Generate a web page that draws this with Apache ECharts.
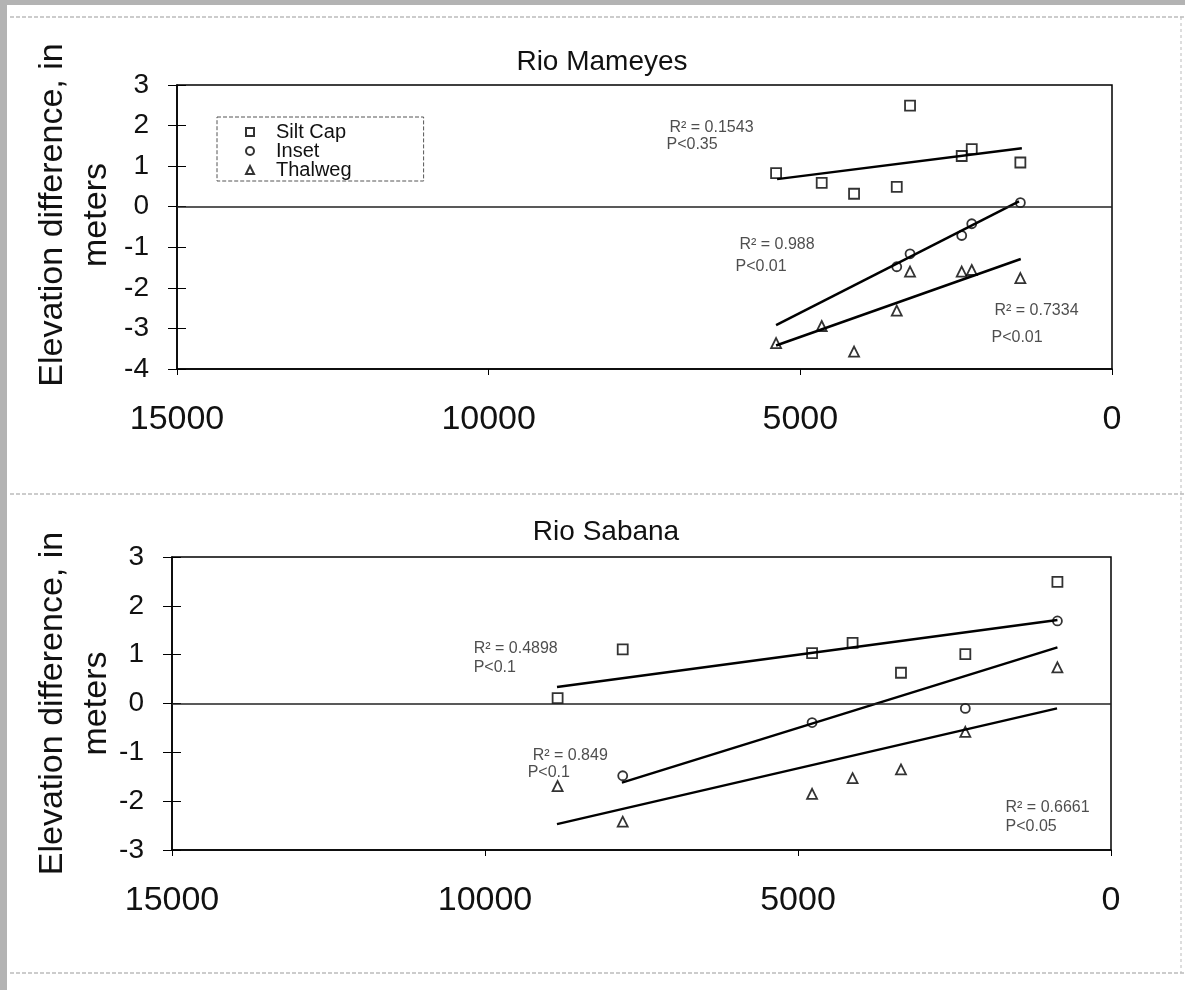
<!DOCTYPE html>
<html>
<head>
<meta charset="utf-8">
<script src="https://cdn.jsdelivr.net/npm/echarts@6/dist/echarts.min.js"></script>
<style>
* { margin: 0; padding: 0; }
body { background: #fff; }
#main { width: 1185px; height: 990px; }
</style>
</head>
<body>
<div id="main"></div>
<script>
// tick labels
var xTicks = [0, 5000, 10000, 15000];
var yTicksTop = [-4, -3, -2, -1, 0, 1, 2, 3];
var yTicksBottom = [-3, -2, -1, 0, 1, 2, 3];
var seriesNames = ["Silt Cap", "Inset", "Thalweg"];

// Rio Mameyes - distance upstream (m) and elevation difference (m)
var mamDist = [5389, 4657, 4138, 3453, 3240, 2411, 2250, 1470];
var mamSilt = [0.83, 0.59, 0.32, 0.49, 2.49, 1.25, 1.42, 1.09];
var mamInsetDist = [3453, 3240, 2411, 2250, 1470];
var mamInset = [-1.48, -1.16, -0.71, -0.42, 0.10];
var mamThal = [-3.36, -2.94, -3.57, -2.56, -1.60, -1.60, -1.56, -1.76];
// fitted trend lines (end points)
var mamSiltFit = [[5373, 0.68], [1446, 1.44]];
var mamInsetFit = [[5389, -2.92], [1492, 0.13]];
var mamThalFit = [[5389, -3.42], [1464, -1.29]];
var mamNotes = [
  [7091, 1.94, "R\u00b2 = 0.1543"], [7139, 1.52, "P<0.35"],
  [5968, -0.94, "R\u00b2 = 0.988"], [6032, -1.48, "P<0.01"],
  [1877, -2.57, "R\u00b2 = 0.7334"], [1925, -3.23, "P<0.01"]
];

// Rio Sabana
var sabDist = [8840, 7800, 4775, 4128, 3355, 2327, 856];
var sabSilt = [0.11, 1.11, 1.03, 1.24, 0.63, 1.01, 2.49];
var sabInsetDist = [7800, 4775, 2327, 856];
var sabInset = [-1.48, -0.39, -0.10, 1.69];
var sabThal = [-1.69, -2.42, -1.85, -1.53, -1.35, -0.58, 0.74];
var sabSiltFit = [[8850, 0.34], [856, 1.71]];
var sabInsetFit = [[7813, -1.62], [856, 1.15]];
var sabThalFit = [[8850, -2.47], [862, -0.10]];
var sabNotes = [
  [10173, 1.11, "R\u00b2 = 0.4898"], [10173, 0.73, "P<0.1"],
  [9231, -1.07, "R\u00b2 = 0.849"], [9311, -1.42, "P<0.1"],
  [1677, -2.14, "R\u00b2 = 0.6661"], [1677, -2.53, "P<0.05"]
];

var FONT = "Liberation Sans, Arial, Helvetica, sans-serif";
var INK = "#111";

function pairs(xs, ys) {
  return xs.map(function (x, i) { return [x, ys[i]]; });
}

function xAxisFor(g) {
  return {
    gridIndex: g, type: "value", inverse: true,
    min: xTicks[0], max: xTicks[xTicks.length - 1], interval: xTicks[1] - xTicks[0],
    axisLine: { onZero: false, lineStyle: { color: "#000", width: 1.5 } },
    axisTick: { length: 6, lineStyle: { color: "#000" } },
    axisLabel: { fontSize: 34, margin: 34, color: INK, fontFamily: FONT,
      formatter: function (v) { return String(v); } },
    splitLine: { show: false }
  };
}

function yAxisFor(g, ticks, gap, shift) {
  return {
    gridIndex: g, type: "value", position: "left",
    min: ticks[0], max: ticks[ticks.length - 1], interval: 1,
    name: "Elevation difference, in\nmeters",
    nameLocation: "middle", nameRotate: 90, nameGap: gap, nameMoveOverlap: false,
    nameTextStyle: { fontSize: 34, lineHeight: 44, color: INK, fontFamily: FONT, padding: [0, 0, 0, shift] },
    axisLine: { onZero: false, lineStyle: { color: "#000", width: 1.5 } },
    axisTick: { length: 9, lineStyle: { color: "#000" } },
    axisLabel: { fontSize: 28, margin: 28, color: INK, fontFamily: FONT },
    splitLine: { show: false }
  };
}

// extra left axis that only draws the half of each tick inside the plot
function innerTicks(g, ticks) {
  return {
    gridIndex: g, type: "value", position: "left",
    min: ticks[0], max: ticks[ticks.length - 1], interval: 1,
    axisLine: { show: false, onZero: false },
    axisTick: { inside: true, length: 9, lineStyle: { color: "#000" } },
    axisLabel: { show: false },
    splitLine: { show: false }
  };
}

var hollow = { color: "rgba(255,255,255,0)", borderColor: "#000", borderWidth: 1.8 };

function pointSeries(name, sym, size, data, xi, yi) {
  return {
    name: name, type: "scatter", xAxisIndex: xi, yAxisIndex: yi,
    symbol: sym, symbolSize: size, itemStyle: hollow, data: data, z: 4
  };
}

function fitSeries(data, xi, yi) {
  return {
    type: "line", xAxisIndex: xi, yAxisIndex: yi, data: data,
    showSymbol: false, silent: true,
    lineStyle: { color: "#000", width: 2.5 }, z: 3
  };
}

function noteSeries(data, xi, yi) {
  return {
    type: "scatter", xAxisIndex: xi, yAxisIndex: yi, data: data,
    symbolSize: 1, itemStyle: { color: "rgba(0,0,0,0)" }, silent: true,
    label: {
      show: true, position: [0, 0], align: "left", verticalAlign: "middle",
      fontSize: 16, color: "#222", fontFamily: FONT,
      formatter: function (p) { return p.data[2]; }
    }
  };
}

function zeroLine(xi, yi) {
  return {
    type: "line", xAxisIndex: xi, yAxisIndex: yi, data: [], silent: true,
    markLine: {
      symbol: "none", silent: true, label: { show: false },
      lineStyle: { color: "#222", width: 1.5, type: "solid" },
      data: [{ yAxis: 0 }]
    }
  };
}

var chart = echarts.init(document.getElementById("main"));
chart.setOption({
  backgroundColor: "#fff",
  animation: false,
  title: [
    { text: "Rio Mameyes", left: 602, top: 48, textAlign: "center", padding: 0,
      textStyle: { fontSize: 28, fontWeight: "normal", color: INK, fontFamily: FONT, lineHeight: 28 } },
    { text: "Rio Sabana", left: 606, top: 518, textAlign: "center", padding: 0,
      textStyle: { fontSize: 28, fontWeight: "normal", color: INK, fontFamily: FONT, lineHeight: 28 } }
  ],
  legend: {
    data: seriesNames, orient: "vertical", left: 217, top: 117,
    padding: [5, 72, 1, 28], itemWidth: 8, itemHeight: 8, itemGap: -1,
    selectedMode: false, borderColor: "#555", borderWidth: 1, borderType: "dashed",
    textStyle: { fontSize: 20, lineHeight: 20, color: INK, fontFamily: FONT, padding: [0, 0, 0, 17] }
  },
  grid: [
    { left: 177, right: 73, top: 85, height: 284, show: true, borderColor: "#000", borderWidth: 1.5 },
    { left: 172, right: 74, top: 557, height: 293, show: true, borderColor: "#000", borderWidth: 1.5 }
  ],
  xAxis: [xAxisFor(0), xAxisFor(1)],
  yAxis: [
    yAxisFor(0, yTicksTop, 58, 24), innerTicks(0, yTicksTop),
    yAxisFor(1, yTicksBottom, 53, 0), innerTicks(1, yTicksBottom)
  ],
  series: [
    zeroLine(0, 0),
    pointSeries(seriesNames[0], "rect", 10, pairs(mamDist, mamSilt), 0, 0),
    pointSeries(seriesNames[1], "circle", 9, pairs(mamInsetDist, mamInset), 0, 0),
    pointSeries(seriesNames[2], "triangle", 10, pairs(mamDist, mamThal), 0, 0),
    fitSeries(mamSiltFit, 0, 0),
    fitSeries(mamInsetFit, 0, 0),
    fitSeries(mamThalFit, 0, 0),
    noteSeries(mamNotes, 0, 0),

    zeroLine(1, 2),
    pointSeries(seriesNames[0], "rect", 10, pairs(sabDist, sabSilt), 1, 2),
    pointSeries(seriesNames[1], "circle", 9, pairs(sabInsetDist, sabInset), 1, 2),
    pointSeries(seriesNames[2], "triangle", 10, pairs(sabDist, sabThal), 1, 2),
    fitSeries(sabSiltFit, 1, 2),
    fitSeries(sabInsetFit, 1, 2),
    fitSeries(sabThalFit, 1, 2),
    noteSeries(sabNotes, 1, 2)
  ],
  graphic: [
    // scanned page edges and faint table rules
    { type: "rect", shape: { x: 0, y: 0, width: 1185, height: 5 }, style: { fill: "#b3b3b3" }, silent: true },
    { type: "rect", shape: { x: 0, y: 0, width: 7, height: 990 }, style: { fill: "#b3b3b3" }, silent: true },
    { type: "line", shape: { x1: 10, y1: 17, x2: 1185, y2: 17 }, style: { stroke: "#999", lineWidth: 1, lineDash: [4, 2] }, silent: true },
    { type: "line", shape: { x1: 10, y1: 494, x2: 1185, y2: 494 }, style: { stroke: "#999", lineWidth: 1, lineDash: [4, 2] }, silent: true },
    { type: "line", shape: { x1: 10, y1: 973, x2: 1185, y2: 973 }, style: { stroke: "#999", lineWidth: 1, lineDash: [4, 2] }, silent: true },
    { type: "line", shape: { x1: 1181, y1: 17, x2: 1181, y2: 973 }, style: { stroke: "#bbb", lineWidth: 1, lineDash: [3, 3] }, silent: true }
  ]
});
</script>
</body>
</html>
